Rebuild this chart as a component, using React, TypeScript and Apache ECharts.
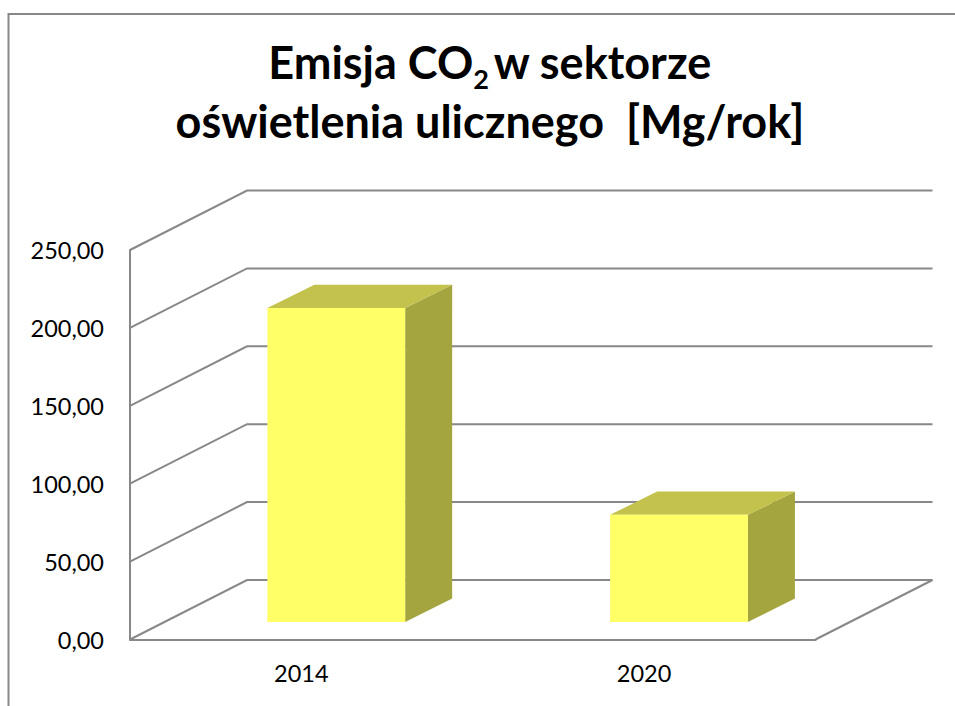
import React, { useEffect, useRef } from "react";
import * as echarts from "echarts";

const categories = ["2014", "2020"];
const emissions = [201.5, 68.7];
const yTicks = [0, 50, 100, 150, 200, 250];
const titleLine1 = "{t|Emisja CO}{s|2}{g| }{t|w sektorze}";
const titleLine2 = "{t|oświetlenia ulicznego  [Mg/rok]}";

const FONT = "Lato";
const LINE = "#888888";
const WALL_DX = 117;
const WALL_DY = -59.5;
const BAR_SHIFT_X = 34.9;
const BAR_SHIFT_Y = -17.6;
const BAR_DEPTH_X = 47;
const BAR_DEPTH_Y = -23.3;

export default function App() {
  const ref = useRef<HTMLDivElement>(null);
  useEffect(() => {
    const chart = echarts.init(ref.current!, undefined, { renderer: "svg" });
    chart.setOption({
      animation: false,
      backgroundColor: "#ffffff",
      title: {
        text: titleLine1 + "\n" + titleLine2,
        left: 485,
        top: 27,
        textAlign: "center",
        textStyle: {
          rich: {
            t: { fontFamily: FONT, fontWeight: "bold", fontSize: 45, lineHeight: 59, color: "#000" },
            s: { fontFamily: FONT, fontWeight: "bold", fontSize: 27, lineHeight: 30, color: "#000", padding: [33, 0, 0, 0] },
            g: { fontFamily: FONT, fontWeight: "bold", fontSize: 18, lineHeight: 59, color: "#000" },
          },
        },
      },
      graphic: [
        {
          type: "polyline",
          silent: true,
          shape: { points: [[8.5, 706], [8.5, 14], [955, 14]] },
          style: { stroke: LINE, lineWidth: 2, fill: "none" },
        },
      ],
      grid: { left: 130, right: 139.5, top: 250, bottom: 66.5 },
      xAxis: {
        type: "category",
        data: categories,
        axisTick: { show: false },
        axisLine: { show: true, lineStyle: { color: LINE, width: 2 } },
        axisLabel: { fontFamily: FONT, fontSize: 23.5, color: "#000", margin: 21 },
      },
      yAxis: {
        type: "value",
        min: 0,
        max: 250,
        interval: 50,
        splitLine: { show: false },
        axisTick: { show: false },
        axisLine: { show: true, onZero: false, lineStyle: { color: LINE, width: 2 } },
        axisLabel: {
          fontFamily: FONT,
          fontSize: 23.5,
          color: "#000",
          margin: 26,
          padding: [2, 0, 0, 0],
          formatter: (v: number) => v.toFixed(2).replace(".", ","),
        },
      },
      series: [
        {
          type: "custom",
          silent: true,
          z: 1,
          data: yTicks.map((v) => [0, v]),
          renderItem: (params: any, api: any) => {
            const rect = params.coordSys;
            const y = api.coord([0, api.value(1)])[1];
            const x0 = rect.x;
            const x1 = rect.x + rect.width;
            const children: any[] = [
              {
                type: "polyline",
                shape: {
                  points: [
                    [x0, y],
                    [x0 + WALL_DX, y + WALL_DY],
                    [x1 + WALL_DX, y + WALL_DY],
                  ],
                },
                style: { stroke: LINE, lineWidth: 2, fill: "none" },
              },
            ];
            if (api.value(1) === 0) {
              children.push({
                type: "line",
                shape: { x1: x1, y1: y, x2: x1 + WALL_DX, y2: y + WALL_DY },
                style: { stroke: LINE, lineWidth: 2 },
              });
            }
            return { type: "group", children };
          },
        },
        {
          type: "custom",
          silent: true,
          z: 2,
          data: emissions.map((v, i) => [i, v]),
          renderItem: (_params: any, api: any) => {
            const i = api.value(0);
            const top = api.coord([i, api.value(1)]);
            const base = api.coord([i, 0]);
            const w = api.size([1, 0])[0] * 0.402;
            const l = top[0] - w / 2 + BAR_SHIFT_X;
            const r = l + w;
            const t = top[1] + BAR_SHIFT_Y;
            const b = base[1] + BAR_SHIFT_Y;
            const dx = BAR_DEPTH_X;
            const dy = BAR_DEPTH_Y;
            return {
              type: "group",
              children: [
                {
                  type: "polygon",
                  shape: { points: [[r, t], [r + dx, t + dy], [r + dx, b + dy], [r, b]] },
                  style: { fill: "#A5A540" },
                },
                {
                  type: "polygon",
                  shape: { points: [[l, t], [l + dx, t + dy], [r + dx, t + dy], [r, t]] },
                  style: { fill: "#C2C24D" },
                },
                {
                  type: "rect",
                  shape: { x: l, y: t, width: w, height: b - t },
                  style: { fill: "#FFFF66" },
                },
              ],
            };
          },
        },
      ],
    });
    return () => chart.dispose();
  }, []);
  return (
    <div
      ref={ref}
      style={{ position: "absolute", left: 0, top: 0, width: 955, height: 706 }}
    />
  );
}
